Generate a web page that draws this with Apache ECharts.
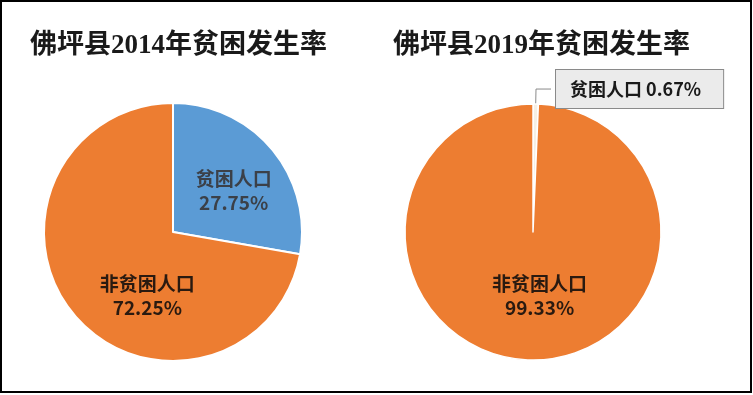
<!DOCTYPE html>
<html><head><meta charset="utf-8">
<script src="https://cdn.jsdelivr.net/npm/echarts@6/dist/echarts.min.js"></script>
<style>html,body{margin:0;padding:0;background:#fff}#c{width:753px;height:395px}</style>
</head><body><div id="c"></div>
<script>
var titles = ['佛坪县2014年贫困发生率', '佛坪县2019年贫困发生率'];
var categories = ['贫困人口', '非贫困人口'];
var values2014 = [27.75, 72.25];
var values2019 = [0.67, 99.33];

var chart = echarts.init(document.getElementById('c'));
var labelFont = {fontFamily: 'Noto Sans CJK SC', fontWeight: 'bold', fontSize: 19, lineHeight: 24};
function fmt(p){ return p.name + '\n' + p.value.toFixed(2) + '%'; }
chart.setOption({
  animation: false,
  graphic: [{type: 'rect', shape: {x: 1, y: 1, width: 750, height: 391}, style: {fill: 'none', stroke: '#000', lineWidth: 2}}],
  title: [
    {text: titles[0], left: 25, top: 28, textStyle: {fontFamily: 'Liberation Serif, Noto Sans CJK SC', fontWeight: 'bold', fontSize: 27, color: '#1a1a1a'}},
    {text: titles[1], left: 388, top: 28, textStyle: {fontFamily: 'Liberation Serif, Noto Sans CJK SC', fontWeight: 'bold', fontSize: 27, color: '#1a1a1a'}}
  ],
  series: [
    {
      type: 'pie', center: [173, 232], radius: 129, startAngle: 90, clockwise: true,
      itemStyle: {borderColor: '#fff', borderWidth: 2},
      label: Object.assign({position: 'inside', formatter: fmt}, labelFont),
      labelLine: {show: false},
      data: [
        {name: categories[0], value: values2014[0], itemStyle: {color: '#5B9BD5'}, label: {color: '#3b4048', offset: [9, 2]}},
        {name: categories[1], value: values2014[1], itemStyle: {color: '#ED7D31'}, label: {color: '#2a1a10', offset: [26, 20]}}
      ]
    },
    {
      type: 'pie', center: [533, 232], radius: 128, startAngle: 90, clockwise: true,
      itemStyle: {borderColor: '#fff', borderWidth: 1.5},
      labelLine: {show: false},
      data: [
        {name: categories[0], value: values2019[0], itemStyle: {color: '#f6efe4'},
          label: Object.assign({position: 'outside', color: '#1a1a1a', formatter: function(p){return p.name + ' ' + p.value.toFixed(2) + '%';},
            backgroundColor: '#ebebeb', borderColor: '#8a8a8a', borderWidth: 1, padding: [9, 22, 9, 14]}, labelFont, {fontSize: 18, lineHeight: 20}),
          labelLine: {show: true, length: 15, length2: 15, lineStyle: {color: '#8a8a8a', width: 1}}},
        {name: categories[1], value: values2019[1], itemStyle: {color: '#ED7D31'},
          label: Object.assign({position: 'inside', color: '#2a1a10', formatter: fmt, offset: [8, -3]}, labelFont)}
      ]
    }
  ]
});
</script></body></html>
